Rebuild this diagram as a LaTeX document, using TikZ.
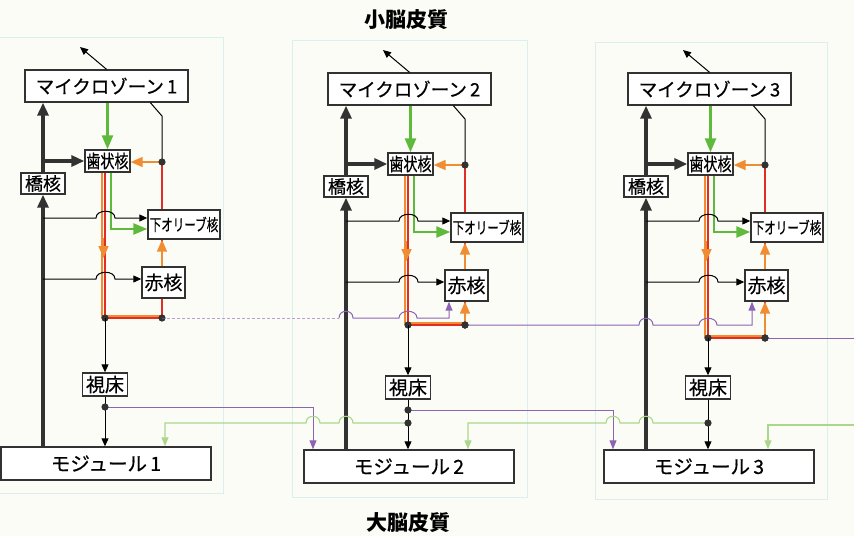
\documentclass[tikz,border=0pt]{standalone}
\usepackage{fontspec}
\usepackage{graphicx}
\usetikzlibrary{arrows.meta,calc}
\newfontfamily\jp{Noto Sans CJK JP}
\newfontfamily\jpm{Noto Sans CJK JP}[FakeBold=0.6]
\definecolor{bgc}{RGB}{252,252,246}
\definecolor{dk}{RGB}{50,50,50}
\definecolor{gr}{RGB}{95,185,60}
\definecolor{orn}{RGB}{240,140,50}
\definecolor{rd}{RGB}{225,45,35}
\definecolor{pu}{RGB}{140,100,180}
\definecolor{lg}{RGB}{170,215,140}
\definecolor{pan}{RGB}{218,240,238}
\tikzset{
 bx/.style={draw=dk, line width=1.4pt, fill=white, inner sep=0pt, anchor=center, font=\jpm},
 thk/.style={dk, line width=3.5pt, -{Triangle[length=13pt,width=11pt]}},
 grn/.style={gr, line width=2.6pt, -{Triangle[length=14pt,width=11pt]}},
 ora/.style={orn, line width=1.6pt, -{Triangle[length=12pt,width=10pt]}},
 orl/.style={orn, line width=1.8pt},
 rdl/.style={rd, line width=2.2pt},
 thn/.style={black, line width=1pt, -{Triangle[length=8pt,width=7pt]}},
 thl/.style={black, line width=1pt},
 pua/.style={pu, line width=1pt, -{Triangle[length=9pt,width=7pt]}},
 pul/.style={pu, line width=1pt},
 lga/.style={lg, line width=1.1pt, -{Triangle[length=9pt,width=7pt]}},
 panel/.style={draw=pan, line width=0.6pt},
}
\newcommand\mymod[5]{%
\begin{scope}[shift={(#2,#3)}]
 \node[bx, minimum width=163pt, minimum height=32pt] (mz#1) at (106.5,86) {\fontsize{18.5}{18.5}\selectfont マイクロゾーン\,#1};
 \node[bx, minimum width=45pt, minimum height=22pt] (sj#1) at (107.5,161) {\fontsize{18}{18}\selectfont\scalebox{0.78}[1]{歯状核}};
 \node[bx, minimum width=44pt, minimum height=21pt] (kyo#1) at (43,183.5) {\fontsize{18}{18}\selectfont 橋核};
 \node[bx, minimum width=72pt, minimum height=29pt] (io#1) at (184,224.5) {\fontsize{16.5}{16.5}\selectfont\scalebox{0.7}[1]{下オリーブ核}};
 \node[bx, minimum width=43pt, minimum height=31pt] (rn#1) at (163.5,282.5) {\fontsize{19}{19}\selectfont 赤核};
 \node[bx, minimum width=45pt, minimum height=23pt] (th#1) at (105,384.5) {\fontsize{19}{19}\selectfont 視床};
 \node[bx, minimum width=210pt, minimum height=33pt] (md#1) at (106,463.5) {\fontsize{19.5}{19.5}\selectfont モジュール\,#1};
 \coordinate (up#1) at (80,47);
 \coordinate (dr#1) at (162,162);
 \coordinate (dl#1) at (105,#4);
 \coordinate (dm#1) at (162,#4);
 \coordinate (ta#1) at (105,407);
 \coordinate (tb#1) at (105,420);
 % output of microzone
 \draw[thn] (mz#1.north) -- (up#1);
 % pontine nucleus pathway
 \draw[thk] (md#1.north -| kyo#1.south) -- (kyo#1.south);
 \draw[thk] (kyo#1.north) -- (kyo#1.north |- mz#1.south);
 \draw[thk] (kyo#1.north |- sj#1.west) -- (sj#1.west);
 % green
 \draw[grn] (mz#1.south -| sj#1.north) -- (sj#1.north);
 \draw[grn] (sj#1.south -| 111,0) -- (111,229) -- (io#1.west |- 0,229);
 % right column
 \draw[thl] ($(mz#1.south west)!0.767!(mz#1.south east)$) -- (162,116) -- (dr#1);
 \draw[rdl] (dr#1) -- (dr#1 |- io#1.north);
 \draw[ora] (dr#1) -- (dr#1 -| sj#1.east);
 \draw[rdl] (rn#1.north -| dr#1) -- (io#1.south -| dr#1);
 \draw[ora] (rn#1.north -| dr#1) -- (io#1.south -| dr#1);
 \draw[rdl] (rn#1.south -| dm#1) -- (dm#1);
 \ifnum#5=1 \draw[ora] (dm#1) -- (rn#1.south -| dm#1);\fi
 % left red/orange column
 \draw[orl] (sj#1.south -| 102,0) -- (102,#4);
 \draw[rdl] (sj#1.south -| dl#1) -- (dl#1);
 \draw[ora] (103.5,238) -- (103.5,258);
 % thin black hops
 \draw[thn] (kyo#1.north |- 0,218) -- (96,218) .. controls (96,209) and (115,209) .. (115,218) -- (io#1.west |- 0,218);
 \draw[thn] (kyo#1.north |- 0,279) -- (96,279) .. controls (96,270) and (115,270) .. (115,279) -- (rn#1.west |- 0,279);
 % bottom horizontal
 \draw[rdl] (dl#1) -- (dm#1);
 \draw[orl] ($(dl#1)+(0,-2)$) -- ($(dm#1)+(0,-2)$);
 \fill[dk] (dr#1) circle[radius=3.6pt];
 \fill[dk] (dl#1) circle[radius=3.6pt];
 \fill[dk] (dm#1) circle[radius=3.6pt];
 % to thalamus and module
 \draw[thn] (dl#1) -- (dl#1 |- th#1.north);
 \draw[thn] (th#1.south) -- (th#1.south |- md#1.north);
\end{scope}}
\begin{document}
\begin{tikzpicture}[x=1pt,y=-1pt]
\useasboundingbox (0,0) rectangle (854,536);
\fill[bgc] (0,0) rectangle (854,536);
\draw[panel] (-1,37) rectangle (223,493);
\draw[panel] (292,40) rectangle (527,497);
\draw[panel] (595,42) rectangle (827,499);
\node[font={\jp\bfseries\fontsize{21}{21}\selectfont}] (ttop) at (406,20) {小脳皮質};
\node[font={\jp\bfseries\fontsize{21}{21}\selectfont}] (tbot) at (408,523) {大脳皮質};
\mymod{1}{0}{0}{318}{0}
\mymod{2}{303}{3}{322}{1}
\mymod{3}{603}{3}{335}{1}
% thalamic outputs (purple) to next module
\coordinate (pv2) at (313,407);
\draw[pua] (ta1) -- (pv2) -- (pv2 |- md2.north);
\coordinate (pv3) at (613,410);
\draw[pua] (ta2) -- (pv3) -- (pv3 |- md3.north);
% light green returns to previous module
\coordinate (gv1) at (165,423);
\draw[lga] (tb2) -- (353,423) .. controls (353,414) and (339,414) .. (339,423) -- (320,423) .. controls (320,414) and (306,414) .. (306,423) -- (gv1) -- (gv1 |- md1.north);
\coordinate (gv2) at (468,423);
\draw[lga] (tb3) -- (653,423) .. controls (653,414) and (639,414) .. (639,423) -- (620,423) .. controls (620,414) and (606,414) .. (606,423) -- (gv2) -- (gv2 |- md2.north);
\coordinate (gs) at (854,425);
\coordinate (gv3) at (768,425);
\draw[lga] (gs) -- (gv3) -- (gv3 |- md3.north);
\fill[dk] (ta1) circle[radius=3.6pt];
\fill[dk] (ta2) circle[radius=3.6pt];
\fill[dk] (tb2) circle[radius=3.6pt];
\fill[dk] (tb3) circle[radius=3.6pt];
% red nucleus level lines to next module
\coordinate (pm2) at (339,318);
\coordinate (pr2) at (449,318);
\draw[pul, densely dashed, opacity=0.6] (dm1) -- (pm2);
\draw[pua] (pm2) .. controls (339,309) and (353,309) .. (353,318) -- (399,318) .. controls (399,309) and (417,309) .. (417,318) -- (pr2) -- (pr2 |- rn2.south);
\coordinate (pr3) at (752,325);
\draw[pua] (dm2) -- (639,325) .. controls (639,316) and (653,316) .. (653,325) -- (699,325) .. controls (699,316) and (717,316) .. (717,325) -- (pr3) -- (pr3 |- rn3.south);
\coordinate (pe) at (854,338);
\draw[pul] (dm3) -- (pe);
\fill[dk] (dm2) circle[radius=3.6pt];
\fill[dk] (dm3) circle[radius=3.6pt];
\end{tikzpicture}
\end{document}
